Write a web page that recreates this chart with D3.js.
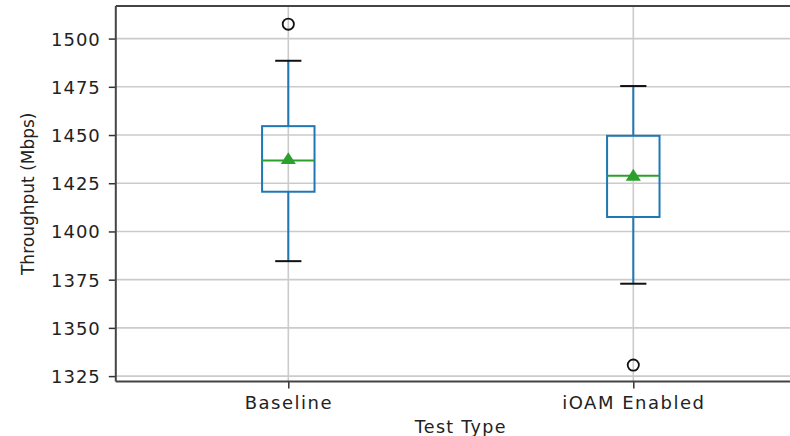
<!DOCTYPE html>
<html>
<head>
<meta charset="utf-8">
<script src="https://cdn.jsdelivr.net/npm/d3@7"></script>
<style>
  body { margin: 0; background: #fff; }
  svg { display: block; }
  svg text { font-family: "DejaVu Sans", sans-serif; }
</style>
</head>
<body>
<div id="chart"></div>
<script>
const categories = ["Baseline", "iOAM Enabled"];
const whiskerLow = [1384.6, 1372.9];
const q1 = [1420.6, 1407.5];
const medians = [1436.8, 1428.9];
const q3 = [1454.6, 1449.6];
const whiskerHigh = [1488.5, 1475.4];
const means = [1437.0, 1428.4];
const outliers = [[1507.5], [1330.7]];
const yTicks = [1325, 1350, 1375, 1400, 1425, 1450, 1475, 1500];

const width = 790;
const height = 436;
// plot area keeps going past the right edge, like the reference crop
const margin = {top: 6, left: 115.8, bottom: 381.5, right: 805.8};
const boxWidth = 0.152;
const blue = "#1f77b4";
const green = "#2ca02c";
const font = "DejaVu Sans, sans-serif";

const svg = d3.select("#chart").append("svg")
    .attr("width", width)
    .attr("height", height);

const x = d3.scaleLinear()
    .domain([0.5, 2.5])
    .range([margin.left, margin.right]);

const y = d3.scaleLinear()
    .domain([1322.2, 1516.9])
    .range([margin.bottom, margin.top]);

const positions = categories.map((c, i) => i + 1);

// Grid lines
svg.append("g")
    .selectAll("line")
    .data(yTicks)
    .enter().append("line")
    .attr("x1", margin.left).attr("x2", margin.right)
    .attr("y1", d => y(d)).attr("y2", d => y(d))
    .attr("stroke", "#cbcbcb")
    .attr("stroke-width", 1.6);

svg.append("g")
    .selectAll("line")
    .data(positions)
    .enter().append("line")
    .attr("x1", d => x(d)).attr("x2", d => x(d))
    .attr("y1", margin.top).attr("y2", margin.bottom)
    .attr("stroke", "#cbcbcb")
    .attr("stroke-width", 1.6);

// Boxes
const g = svg.append("g");
positions.forEach((p, i) => {
    const x0 = x(p - boxWidth / 2);
    const x1 = x(p + boxWidth / 2);
    const c0 = x(p - boxWidth / 4);
    const c1 = x(p + boxWidth / 4);

    // whiskers
    g.append("line")
        .attr("x1", x(p)).attr("x2", x(p))
        .attr("y1", y(q3[i])).attr("y2", y(whiskerHigh[i]))
        .attr("stroke", blue).attr("stroke-width", 2);
    g.append("line")
        .attr("x1", x(p)).attr("x2", x(p))
        .attr("y1", y(q1[i])).attr("y2", y(whiskerLow[i]))
        .attr("stroke", blue).attr("stroke-width", 2);

    // caps
    [whiskerHigh[i], whiskerLow[i]].forEach(v => {
        g.append("line")
            .attr("x1", c0).attr("x2", c1)
            .attr("y1", y(v)).attr("y2", y(v))
            .attr("stroke", "#111").attr("stroke-width", 2);
    });

    // box
    g.append("rect")
        .attr("x", x0)
        .attr("y", y(q3[i]))
        .attr("width", x1 - x0)
        .attr("height", y(q1[i]) - y(q3[i]))
        .attr("fill", "none")
        .attr("stroke", blue)
        .attr("stroke-width", 2);

    // median
    g.append("line")
        .attr("x1", x0).attr("x2", x1)
        .attr("y1", y(medians[i])).attr("y2", y(medians[i]))
        .attr("stroke", green).attr("stroke-width", 2);

    // mean
    g.append("path")
        .attr("d", d3.symbol().type(d3.symbolTriangle).size(90)())
        .attr("transform", `translate(${x(p)},${y(means[i])}) scale(1.05,0.95)`)
        .attr("fill", green);

    // fliers
    g.selectAll(null)
        .data(outliers[i])
        .enter().append("circle")
        .attr("cx", x(p))
        .attr("cy", d => y(d))
        .attr("r", 5.6)
        .attr("fill", "none")
        .attr("stroke", "#111")
        .attr("stroke-width", 1.8);
});

// Axes
const yAxis = svg.append("g")
    .attr("transform", `translate(${margin.left},0)`)
    .call(d3.axisLeft(y).tickValues(yTicks).tickSize(7).tickPadding(8).tickFormat(d3.format("d")));
yAxis.attr("font-family", font);
yAxis.select(".domain").remove();
yAxis.selectAll("line").attr("stroke", "#333").attr("stroke-width", 1.5);
yAxis.selectAll("text")
    .attr("fill", "#222")
    .style("font-size", "18px")
    .style("letter-spacing", "1px")
    .attr("dy", "0.36em");

const xAxis = svg.append("g")
    .attr("transform", `translate(0,${margin.bottom})`)
    .call(d3.axisBottom(x).tickValues(positions).tickSize(7).tickPadding(8)
        .tickFormat(d => categories[d - 1]));
xAxis.attr("font-family", font);
xAxis.select(".domain").remove();
xAxis.selectAll("line").attr("stroke", "#333").attr("stroke-width", 1.5);
xAxis.selectAll("text")
    .attr("fill", "#222")
    .style("font-size", "18px")
    .style("letter-spacing", "1.5px");

// Spines
svg.append("line")
    .attr("x1", margin.left).attr("x2", margin.right)
    .attr("y1", margin.bottom).attr("y2", margin.bottom)
    .attr("stroke", "#444").attr("stroke-width", 2);
svg.append("line")
    .attr("x1", margin.left).attr("x2", margin.right)
    .attr("y1", margin.top).attr("y2", margin.top)
    .attr("stroke", "#444").attr("stroke-width", 2);
svg.append("line")
    .attr("x1", margin.left).attr("x2", margin.left)
    .attr("y1", margin.top).attr("y2", margin.bottom)
    .attr("stroke", "#444").attr("stroke-width", 2);

// Axis titles
svg.append("text")
    .attr("x", (margin.left + margin.right) / 2)
    .attr("y", 433)
    .attr("text-anchor", "middle")
    .attr("fill", "#222")
    .style("font-size", "17.5px")
    .style("letter-spacing", "1.3px")
    .text("Test Type");

svg.append("text")
    .attr("transform", `translate(34,${(margin.top + margin.bottom) / 2}) rotate(-90)`)
    .attr("text-anchor", "middle")
    .attr("fill", "#222")
    .style("font-size", "17px")
    .text("Throughput (Mbps)");
</script>
</body>
</html>
